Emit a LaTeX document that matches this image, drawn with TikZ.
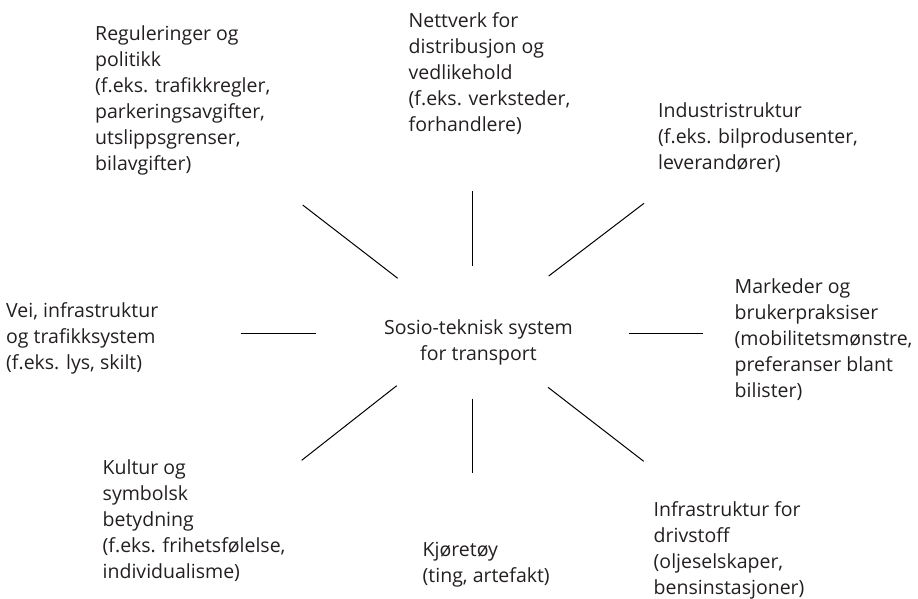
\documentclass[tikz,border=0pt]{standalone}
\usepackage{fontspec}
\setmainfont{Open Sans}
\begin{document}
\begin{tikzpicture}[x=1pt,y=-1pt,
  lbl/.style={anchor=base west,align=left,inner sep=0pt,text=txt,
    font=\fontsize{19.5}{26}\selectfont},
  spoke/.style={draw=black,line width=1pt}]
\definecolor{txt}{RGB}{35,31,32}
\useasboundingbox (0,0) rectangle (918,598);
\node[lbl,anchor=base,align=center] (c) at (478.5,360) {Sosio-teknisk system\\for transport};
\node[lbl] (reg) at (95,170) {Reguleringer og\\politikk\\(f.eks. trafikkregler,\\parkeringsavgifter,\\utslippsgrenser,\\bilavgifter)};
\node[lbl] (nett) at (408.5,131) {Nettverk for\\distribusjon og\\vedlikehold\\(f.eks. verksteder,\\forhandlere)};
\node[lbl] (ind) at (658,169) {Industristruktur\\(f.eks. bilprodusenter,\\leverandører)};
\node[lbl] (mark) at (734.5,397.5) {Markeder og\\brukerpraksiser\\(mobilitetsmønstre,\\preferanser blant\\bilister)};
\node[lbl] (vei) at (6,369.5) {Vei, infrastruktur\\og trafikksystem\\(f.eks. lys, skilt)};
\node[lbl] (kult) at (102.5,578) {Kultur og\\symbolsk\\betydning\\(f.eks. frihetsfølelse,\\individualisme)};
\node[lbl] (kjor) at (422.5,582.5) {Kjøretøy\\(ting, artefakt)};
\node[lbl] (infra) at (653.5,594.5) {Infrastruktur for\\drivstoff\\(oljeselskaper,\\bensinstasjoner)};
% spoke end points
\coordinate (ul1) at (302.7,205);   \coordinate (ul2) at (397.7,278.3);
\coordinate (t1) at (472.5,191);    \coordinate (t2) at (472.5,266);
\coordinate (ur1) at (644,203.3);   \coordinate (ur2) at (548.7,276);
\coordinate (l1) at (240.7,333);    \coordinate (l2) at (315.7,333);
\coordinate (r1) at (628.7,333);    \coordinate (r2) at (703.3,333);
\coordinate (ll1) at (301.7,460.3); \coordinate (ll2) at (396.7,385.7);
\coordinate (b1) at (472,398.7);    \coordinate (b2) at (472,473);
\coordinate (lr1) at (548,387.3);   \coordinate (lr2) at (643.7,461.3);
\draw[spoke] (ul1) -- (ul2);
\draw[spoke] (t1) -- (t2);
\draw[spoke] (ur1) -- (ur2);
\draw[spoke] (l1) -- (l2);
\draw[spoke] (r1) -- (r2);
\draw[spoke] (ll1) -- (ll2);
\draw[spoke] (b1) -- (b2);
\draw[spoke] (lr1) -- (lr2);
\end{tikzpicture}
\end{document}
